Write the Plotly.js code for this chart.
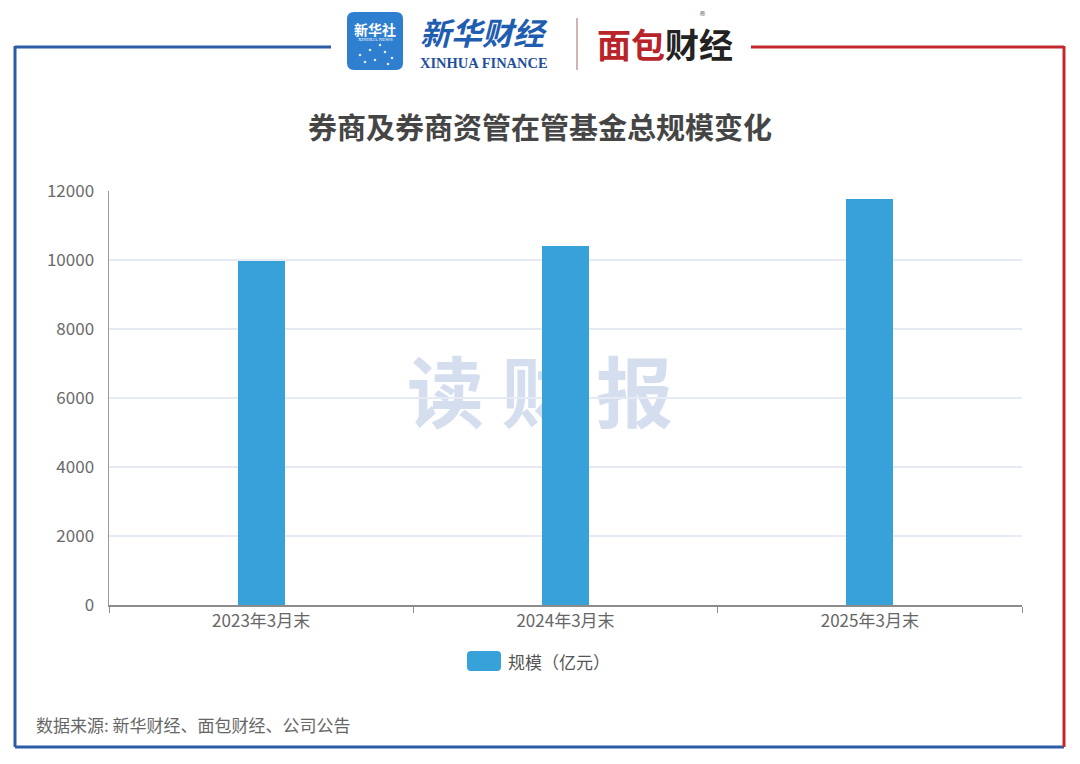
<!DOCTYPE html>
<html>
<head>
<meta charset="utf-8">
<script src="https://cdn.plot.ly/plotly-3.0.1.min.js"></script>
<style>
html,body{margin:0;padding:0;background:#fff;}
#chart{width:1080px;height:764px;}
</style>
</head>
<body>
<div id="chart"></div>
<script>
// ---- data ----
const categories = ["2023年3月末", "2024年3月末", "2025年3月末"];
const values = [9970, 10405, 11770];
const seriesName = "规模（亿元）";
const yTicks = [0, 2000, 4000, 6000, 8000, 10000, 12000];
const chartTitle = "券商及券商资管在管基金总规模变化";
const sourceText = "数据来源: 新华财经、面包财经、公司公告";
const watermark = "读 财 报";

// ---- pixel helpers (plot area: x 109..1022, y 191..605) ----
const L = 109, R = 1022, T = 191, B = 605;
const PX = X => (X - L) / (R - L);
const PY = Y => (B - Y) / (B - T);

const CJK = '"Noto Sans CJK SC", "Noto Sans", sans-serif';
const BAR = '#37a2da';
const BLUE = '#2c5ca6';
const RED = '#c3282e';

const trace = {
  type: 'bar',
  x: categories,
  y: values,
  name: seriesName,
  width: 0.155,
  marker: {color: BAR},
  showlegend: false,
  hoverinfo: 'x+y'
};

function line(x0, y0, x1, y1, color, w) {
  return {type: 'line', xref: 'paper', yref: 'paper', x0: PX(x0), y0: PY(y0), x1: PX(x1), y1: PY(y1),
          line: {color: color, width: w}};
}
function roundRect(x0, y0, x1, y1, r, fill) {
  const p = (X, Y) => PX(X) + ',' + PY(Y);
  const path = 'M' + p(x0 + r, y0) + ' L' + p(x1 - r, y0) + ' Q' + p(x1, y0) + ' ' + p(x1, y0 + r) +
    ' L' + p(x1, y1 - r) + ' Q' + p(x1, y1) + ' ' + p(x1 - r, y1) +
    ' L' + p(x0 + r, y1) + ' Q' + p(x0, y1) + ' ' + p(x0, y1 - r) +
    ' L' + p(x0, y0 + r) + ' Q' + p(x0, y0) + ' ' + p(x0 + r, y0) + ' Z';
  return {type: 'path', xref: 'paper', yref: 'paper', path: path, fillcolor: fill, line: {width: 0}};
}
function ann(text, X, Y, size, color, opts) {
  return Object.assign({text: text, xref: 'paper', yref: 'paper', x: PX(X), y: PY(Y), showarrow: false,
    xanchor: 'center', yanchor: 'middle', font: {family: CJK, size: size, color: color}}, opts || {});
}

const shapes = [
  // frame
  line(15, 47, 331, 47, BLUE, 3),
  line(15, 46, 15, 747, BLUE, 3),
  line(15, 747, 1064, 747, BLUE, 3),
  line(751, 47, 1064, 47, RED, 3),
  line(1064, 46, 1064, 747, RED, 3),
  // xinhua news logo
  roundRect(347, 12, 403, 70, 7, '#2f7fd1'),
  // separator
  line(577, 18, 577, 70, '#c99a9a', 1.5),
  // watermark (behind bars)
  {type: 'rect', xref: 'paper', yref: 'paper', x0: PX(380), x1: PX(700), y0: PY(440), y1: PY(360),
   layer: 'below', line: {width: 0}, fillcolor: 'rgba(0,0,0,0)',
   label: {text: watermark, textposition: 'middle center',
           font: {family: CJK, size: 77, color: 'rgba(190,205,230,0.65)', weight: 'bold'}}},
  // legend swatch
  roundRect(467, 651, 501, 671, 4, BAR)
];
// little network dots in the logo
const dots = [[360,55],[370,50],[375,60],[385,52],[392,58],[380,45],[365,62],[388,64]];
dots.forEach(d => shapes.push({type: 'circle', xref: 'paper', yref: 'paper',
  x0: PX(d[0]-1.3), x1: PX(d[0]+1.3), y0: PY(d[1]-1.3), y1: PY(d[1]+1.3),
  fillcolor: 'rgba(255,255,255,0.85)', line: {width: 0}}));

const annotations = [
  ann('新华社', 375, 29, 14, '#ffffff', {font: {family: CJK, size: 14, color: '#fff', weight: 'bold'}}),
  ann('XINHUA NEWS', 375, 40, 5, '#ffffff', {font: {family: 'Liberation Serif', size: 5, color: '#fff'}}),
  ann('新华财经', 484, 31, 31, '#1f5db0', {font: {family: CJK, size: 31, color: '#1f5db0', weight: 'bold', style: 'italic'}}),
  ann('XINHUA FINANCE', 484, 63, 14, '#1f4f9e', {font: {family: 'Liberation Serif', size: 14.5, color: '#1f4f9e', weight: 'bold'}}),
  ann('<span style="color:#b8242a">面包</span><span style="color:#222">财经</span>', 665, 43, 34, '#b8242a',
      {font: {family: CJK, size: 34, color: '#b8242a', weight: 'bold'}}),
  ann('®', 702, 14, 7, '#555', {font: {family: 'DejaVu Sans', size: 7, color: '#555'}}),
  ann(seriesName, 506, 661, 17, '#555', {xanchor: 'left'}),
  ann(sourceText, 34, 724, 17, '#666', {xanchor: 'left'})
];

const layout = {
  width: 1080, height: 764,
  paper_bgcolor: '#ffffff', plot_bgcolor: '#ffffff',
  margin: {l: L, r: 1080 - R, t: T, b: 764 - B, pad: 0},
  title: {text: chartTitle, x: 0.5, xanchor: 'center', y: 1 - 129 / 764, yanchor: 'middle',
          font: {family: CJK, size: 29, color: '#454545', weight: 'bold'}},
  xaxis: {
    type: 'category', categoryorder: 'array', categoryarray: categories,
    showline: true, linecolor: '#8c8c8c', linewidth: 1.5,
    ticks: 'outside', tickson: 'boundaries', ticklen: 6, tickcolor: '#8c8c8c', tickwidth: 1,
    showgrid: false, zeroline: false,
    tickfont: {family: CJK, size: 17, color: '#666'}
  },
  yaxis: {
    range: [0, 12000], tickvals: yTicks, ticktext: yTicks.map(String),
    showline: true, linecolor: '#9a9a9a', linewidth: 1.5,
    ticks: '', showgrid: true, gridcolor: '#e6eaf4', gridwidth: 1.5, zeroline: false,
    ticklabelstandoff: 10,
    tickfont: {family: CJK, size: 17, color: '#6a6a6a'}
  },
  bargap: 0,
  shapes: shapes,
  annotations: annotations,
  showlegend: false
};

Plotly.newPlot('chart', [trace], layout, {displayModeBar: false, staticPlot: true});
</script>
</body>
</html>
